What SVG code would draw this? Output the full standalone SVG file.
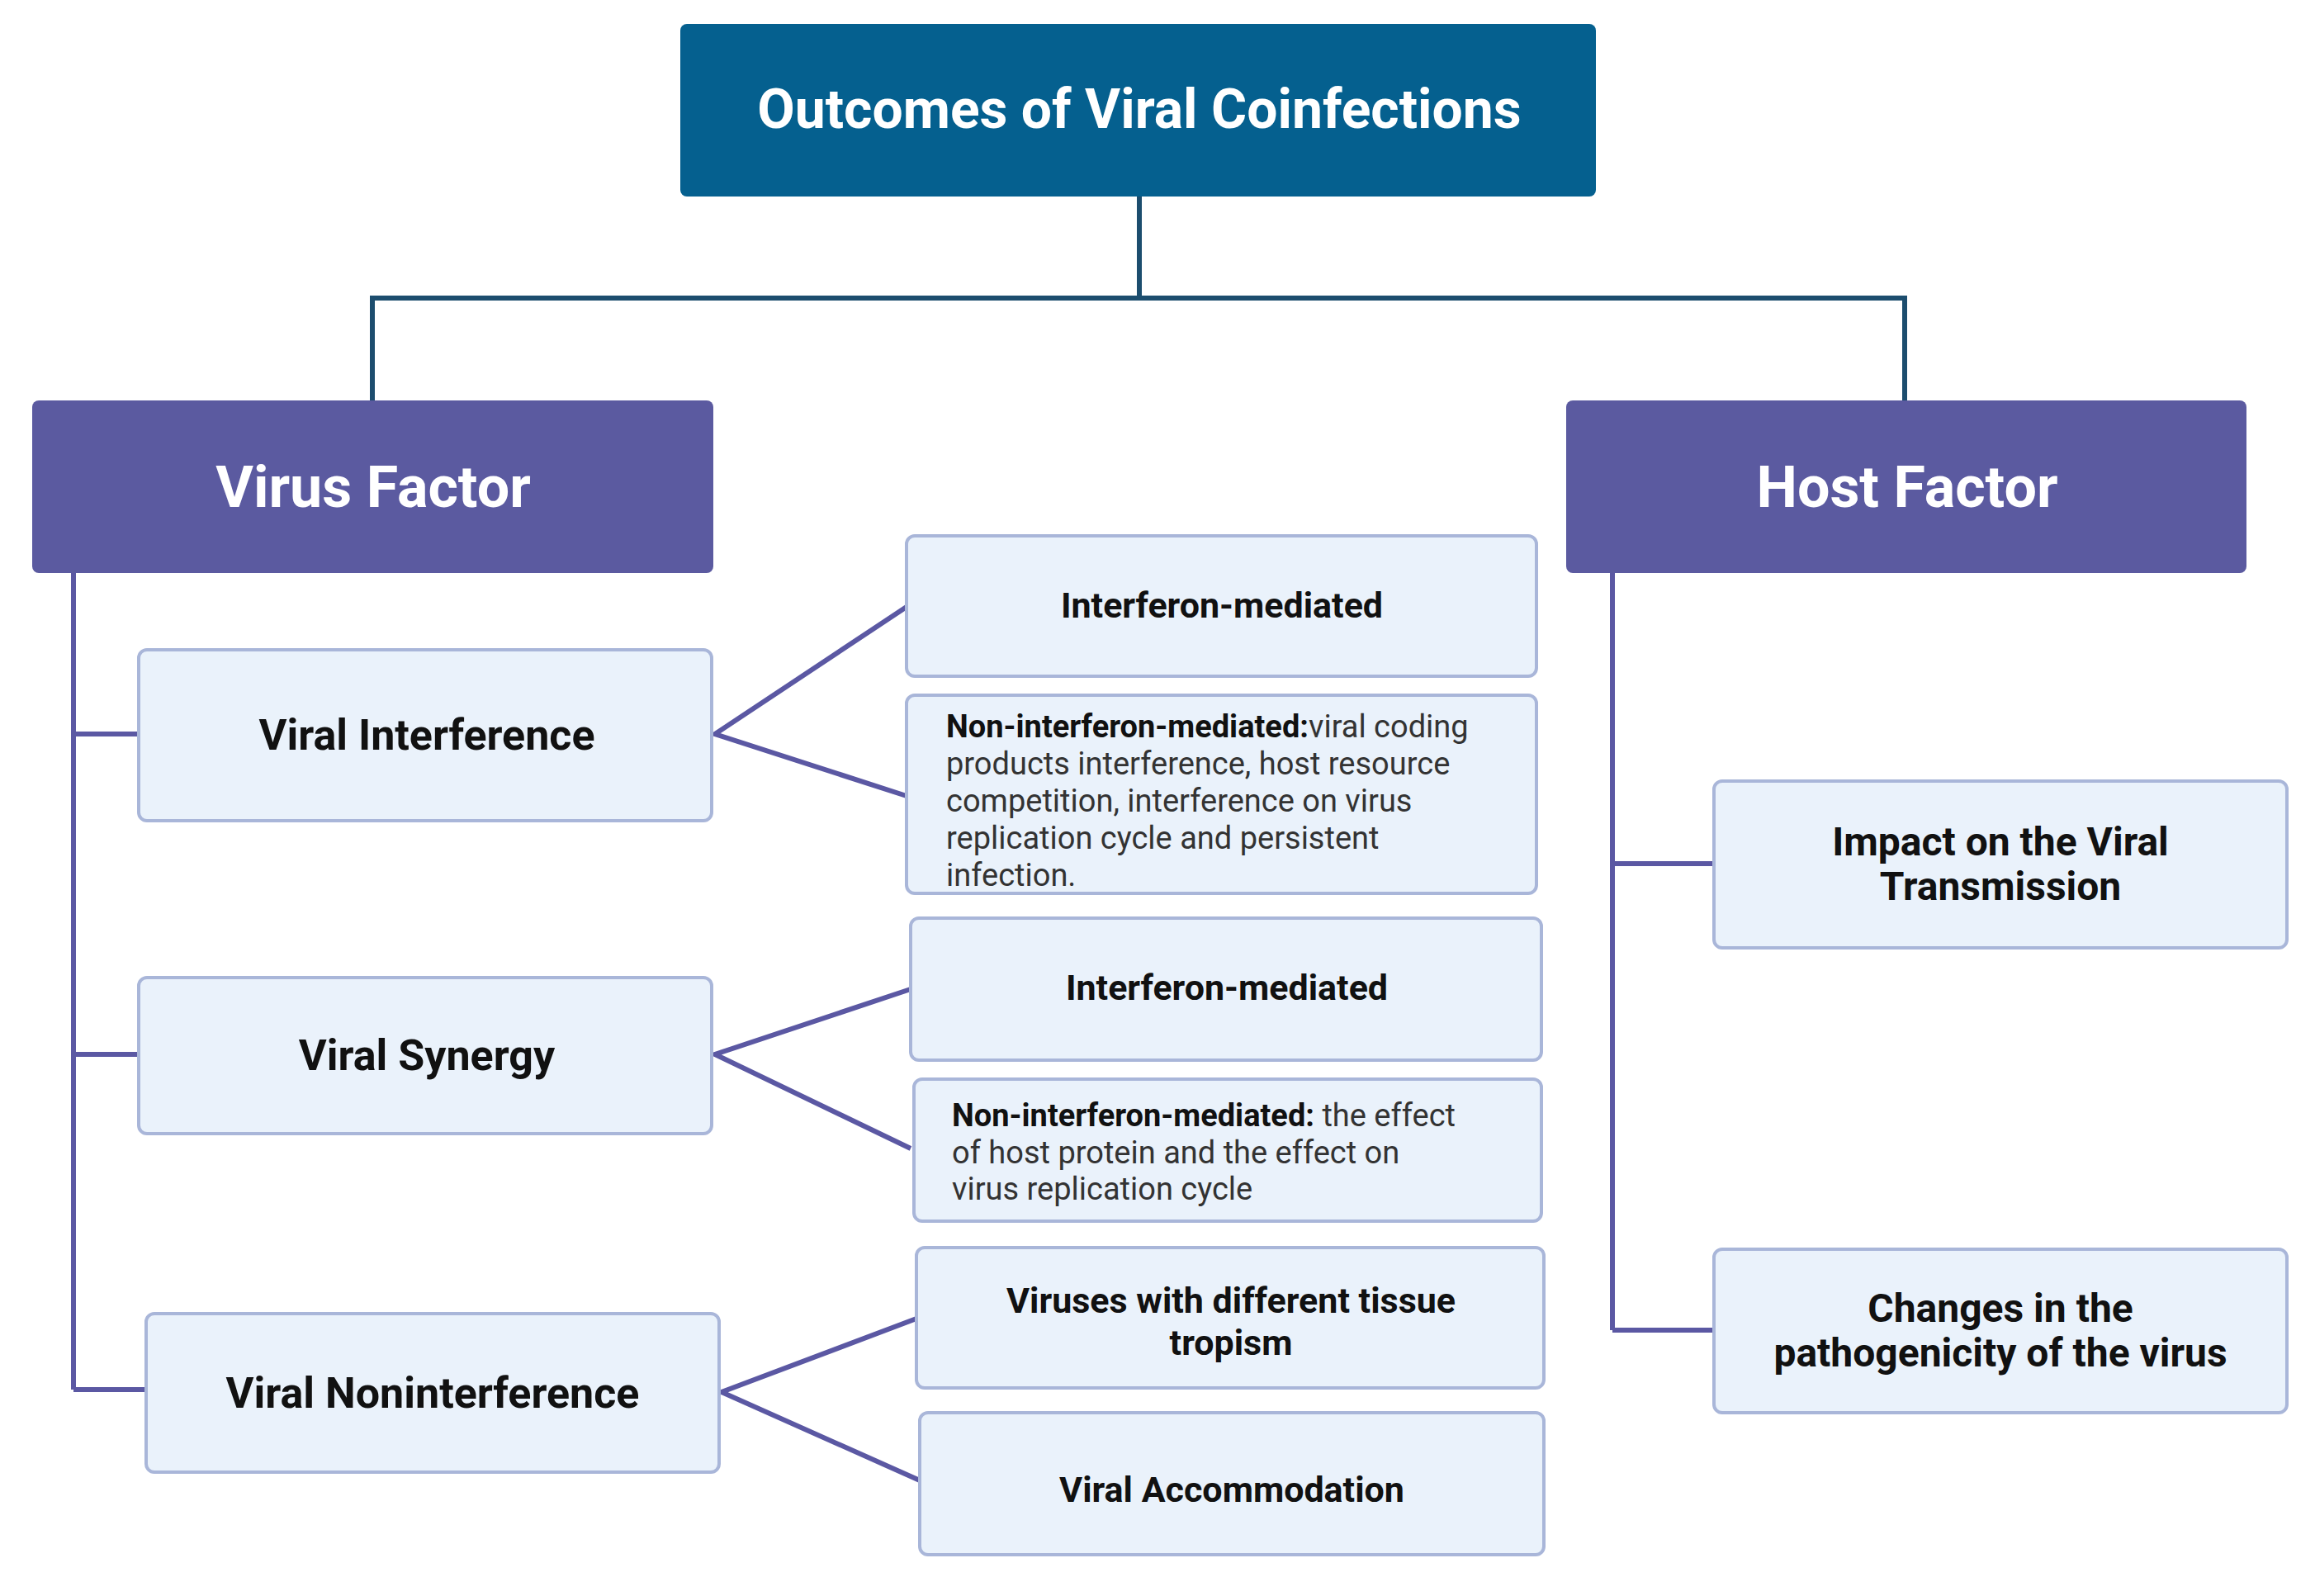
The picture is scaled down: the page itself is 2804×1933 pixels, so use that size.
<svg xmlns="http://www.w3.org/2000/svg" width="2804" height="1933" viewBox="0 0 2804 1933">
<style>
text{font-family:Roboto,"Liberation Sans",sans-serif}
.n{fill:#eaf2fb;stroke:#a9b6d9;stroke-width:4}
.t{font-weight:bold;font-size:52px;fill:#111;text-anchor:middle}
.r{font-weight:bold;font-size:48px;fill:#111;text-anchor:middle}
.s{font-weight:bold;font-size:43px;fill:#111;text-anchor:middle}
.p{font-size:38px;fill:#333}
.p tspan.b{font-weight:bold;fill:#111}
.h{font-weight:bold;fill:#fff;text-anchor:middle}
.c1{stroke:#1c4d6e;stroke-width:6;fill:none}
.c2{stroke:#5b58a3;stroke-width:6;fill:none}
</style>
<rect width="2804" height="1933" fill="#fff"/>
<g id="connectors">
<path class="c1" d="M1380 238V361M451 485V361H2307V485"/>
<path class="c2" d="M89 694V1683M89 889H168M89 1277H168M89 1683H177"/>
<path class="c2" d="M1953 694V1611M1953 1046H2076M1953 1611H2076"/>
<path class="c2" d="M1098 735L866 889L1098 964M1103 1198L866 1277L1103 1391M1110 1597L874 1686L1114 1793"/>
</g>
<g id="root"><rect x="824" y="29" width="1109" height="209" rx="8" fill="#05608f"/><text class="h" x="1380" y="155" font-size="66">Outcomes of Viral Coinfections</text></g>
<g id="virus"><rect x="39" y="485" width="825" height="209" rx="8" fill="#5b5aa0"/><text class="h" x="452" y="614" font-size="70">Virus Factor</text></g>
<g id="host"><rect x="1897" y="485" width="824" height="209" rx="8" fill="#5b5aa0"/><text class="h" x="2310" y="614" font-size="70">Host Factor</text></g>
<g id="vi"><rect class="n" x="168" y="787" width="694" height="207" rx="10"/><text class="t" x="517" y="908">Viral Interference</text></g>
<g id="vs"><rect class="n" x="168" y="1184" width="694" height="189" rx="10"/><text class="t" x="517" y="1296">Viral Synergy</text></g>
<g id="vn"><rect class="n" x="177" y="1591" width="694" height="192" rx="10"/><text class="t" x="524" y="1705">Viral Noninterference</text></g>
<g id="im1"><rect class="n" x="1098" y="649" width="763" height="170" rx="10"/><text class="s" x="1480" y="748">Interferon-mediated</text></g>
<g id="nim1"><rect class="n" x="1098" y="842" width="763" height="240" rx="10"/><text class="p"><tspan x="1146" y="893"><tspan class="b">Non-interferon-mediated:</tspan>viral coding</tspan><tspan x="1146" y="938">products interference, host resource</tspan><tspan x="1146" y="983">competition, interference on virus</tspan><tspan x="1146" y="1028">replication cycle and persistent</tspan><tspan x="1146" y="1073">infection.</tspan></text></g>
<g id="im2"><rect class="n" x="1103" y="1112" width="764" height="172" rx="10"/><text class="s" x="1486" y="1211">Interferon-mediated</text></g>
<g id="nim2"><rect class="n" x="1107" y="1307" width="760" height="172" rx="10"/><text class="p"><tspan x="1153" y="1364"><tspan class="b">Non-interferon-mediated:</tspan> the effect</tspan><tspan x="1153" y="1409">of host protein and the effect on</tspan><tspan x="1153" y="1453">virus replication cycle</tspan></text></g>
<g id="tissue"><rect class="n" x="1110" y="1511" width="760" height="170" rx="10"/><text class="s" x="1491" y="1590">Viruses with different tissue</text><text class="s" x="1491" y="1641">tropism</text></g>
<g id="accom"><rect class="n" x="1114" y="1711" width="756" height="172" rx="10"/><text class="s" x="1492" y="1819">Viral Accommodation</text></g>
<g id="impact"><rect class="n" x="2076" y="946" width="694" height="202" rx="10"/><text class="r" x="2423" y="1036">Impact on the Viral</text><text class="r" x="2423" y="1090">Transmission</text></g>
<g id="changes"><rect class="n" x="2076" y="1513" width="694" height="198" rx="10"/><text class="r" x="2423" y="1601">Changes in the</text><text class="r" x="2423" y="1655">pathogenicity of the virus</text></g>
</svg>
